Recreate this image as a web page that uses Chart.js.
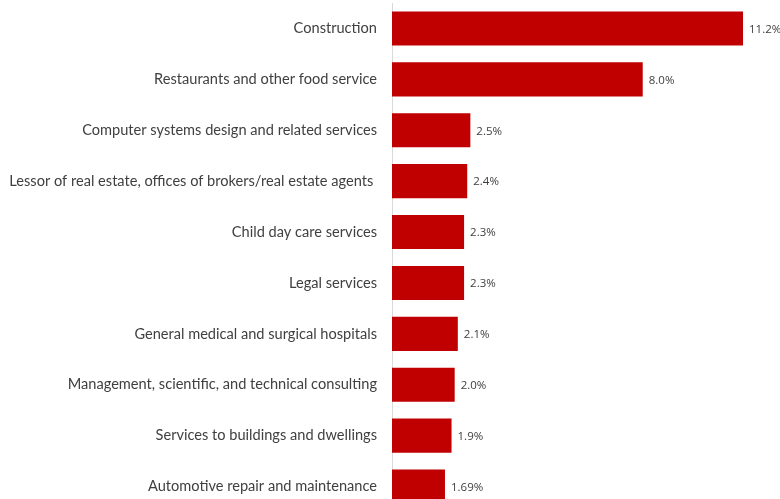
<!DOCTYPE html>
<html>
<head>
<meta charset="utf-8">
<script src="https://cdn.jsdelivr.net/npm/chart.js@4"></script>
<style>
  html, body { margin: 0; padding: 0; overflow: hidden; background: #fff; }
  #wrap { width: 780px; height: 499px; overflow: hidden; }
</style>
</head>
<body>
<div id="wrap"><canvas id="chart" width="780" height="512"></canvas></div>
<script>
// Industry shares (percent)
const industries = [
  'Construction',
  'Restaurants and other food service',
  'Computer systems design and related services',
  'Lessor of real estate, offices of brokers/real estate agents ',
  'Child day care services',
  'Legal services',
  'General medical and surgical hospitals',
  'Management, scientific, and technical consulting',
  'Services to buildings and dwellings',
  'Automotive repair and maintenance'
];
const shares = [11.2, 8.0, 2.5, 2.4, 2.3, 2.3, 2.1, 2.0, 1.9, 1.69];
const shareLabels = ['11.2%', '8.0%', '2.5%', '2.4%', '2.3%', '2.3%', '2.1%', '2.0%', '1.9%', '1.69%'];

// draw value labels at the end of each bar
const barLabels = {
  id: 'barLabels',
  afterDatasetsDraw(chart) {
    const ctx = chart.ctx;
    const meta = chart.getDatasetMeta(0);
    ctx.save();
    ctx.font = '11.5px "Open Sans", sans-serif';
    ctx.fillStyle = '#404040';
    ctx.textAlign = 'left';
    ctx.textBaseline = 'middle';
    meta.data.forEach((bar, i) => {
      ctx.fillText(shareLabels[i], bar.x + 6, bar.y + 1);
    });
    ctx.restore();
  }
};

new Chart(document.getElementById('chart').getContext('2d'), {
  type: 'bar',
  data: {
    labels: industries,
    datasets: [{
      data: shares,
      backgroundColor: '#c00000',
      borderWidth: 0,
      categoryPercentage: 1.0,
      barPercentage: 0.67
    }]
  },
  options: {
    indexAxis: 'y',
    responsive: false,
    animation: false,
    layout: { padding: { top: 3, bottom: 0, left: 0, right: 0 } },
    plugins: {
      legend: { display: false },
      tooltip: { enabled: false }
    },
    scales: {
      x: {
        display: false,
        min: 0,
        max: 12.38
      },
      y: {
        grid: { display: false, drawTicks: false },
        border: { display: true, color: '#d9d9d9', width: 1 },
        afterFit(scale) {
          scale.width = 392;
          scale.paddingTop = 0;
          scale.paddingBottom = 0;
        },
        ticks: {
          color: '#404040',
          padding: 15,
          autoSkip: false,
          font: { family: 'Lato, "Open Sans", sans-serif', size: 14.6 }
        }
      }
    }
  },
  plugins: [barLabels]
});
</script>
</body>
</html>
